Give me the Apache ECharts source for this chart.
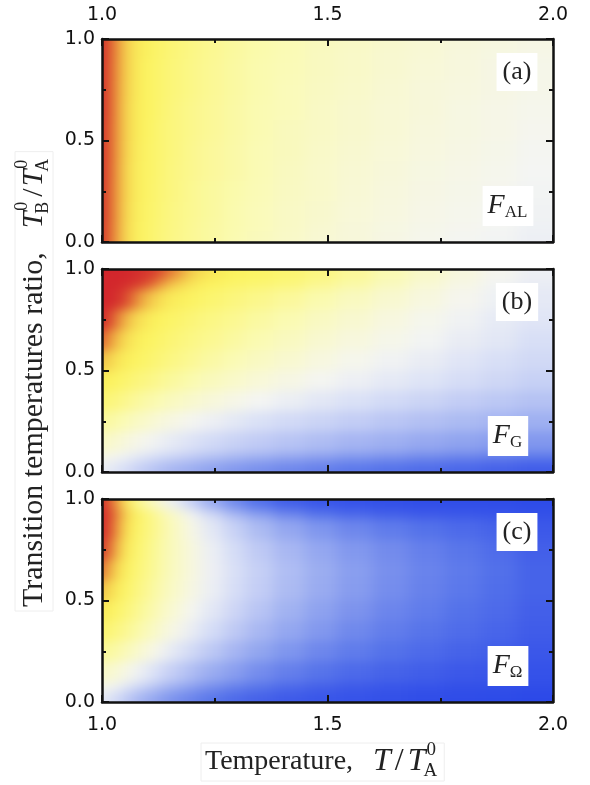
<!DOCTYPE html>
<html>
<head>
<meta charset="utf-8">
<script src="https://cdn.jsdelivr.net/npm/echarts@6/dist/echarts.min.js"></script>
<style>
  html, body { margin: 0; padding: 0; background: #fff; }
  #main { width: 590px; height: 785px; }
  /* the colour cells live on layer 0: soften the cell edges like the smooth original */
  #main canvas[data-zr-dom-id="zr_0"] { filter: url(#soft); }
</style>
</head>
<body>
<svg width="0" height="0" style="position:absolute">
  <filter id="soft" x="0" y="0" width="100%" height="100%" color-interpolation-filters="sRGB">
    <feGaussianBlur stdDeviation="8 5.5" />
  </filter>
</svg>
<div id="main"></div>
<script>
// cell edges along T/T_A^0 (finer close to 1.0 where the colour changes fast)
const tempEdges = [1.00, 1.01, 1.025, 1.04, 1.06, 1.08, 1.11, 1.14, 1.18, 1.22, 1.27, 1.32, 1.38, 1.45, 1.52, 1.60, 1.68, 1.76, 1.84, 1.92, 2.00];
// cell edges along T_B^0/T_A^0, top to bottom like the rows below
const ratioEdges = [1.0, 0.95, 0.9, 0.8, 0.7, 0.6, 0.5, 0.4, 0.3, 0.2, 0.1, 0.05, 0.0];

const tickLabels = [1.0, 1.5, 2.0];
const panelNames = ['(a)', '(b)', '(c)'];
const fNames = ['AL', 'G', 'Ω'];

// -1 deep blue, 0 white, 0.5 yellow, 1 red (rows top -> bottom)
const fAL = [
  [0.98,0.90,0.75,0.63,0.55,0.51,0.47,0.43,0.39,0.35,0.31,0.27,0.24,0.21,0.18,0.15,0.12,0.10,0.08,0.06],
  [0.98,0.90,0.75,0.63,0.55,0.51,0.47,0.43,0.39,0.35,0.31,0.27,0.24,0.20,0.17,0.14,0.12,0.09,0.07,0.05],
  [0.98,0.89,0.74,0.63,0.55,0.50,0.46,0.42,0.38,0.34,0.30,0.26,0.23,0.20,0.17,0.14,0.11,0.09,0.06,0.04],
  [0.98,0.89,0.74,0.62,0.55,0.50,0.46,0.42,0.38,0.34,0.30,0.26,0.22,0.19,0.16,0.13,0.10,0.08,0.06,0.04],
  [0.98,0.89,0.73,0.62,0.54,0.50,0.46,0.41,0.37,0.33,0.29,0.25,0.22,0.18,0.15,0.12,0.10,0.07,0.05,0.03],
  [0.97,0.88,0.73,0.62,0.54,0.50,0.45,0.41,0.37,0.33,0.29,0.25,0.21,0.18,0.15,0.12,0.09,0.07,0.05,0.02],
  [0.97,0.88,0.73,0.61,0.54,0.49,0.45,0.41,0.36,0.32,0.28,0.24,0.21,0.17,0.14,0.11,0.08,0.06,0.04,0.01],
  [0.97,0.88,0.72,0.61,0.53,0.49,0.45,0.40,0.36,0.32,0.28,0.24,0.20,0.16,0.13,0.10,0.07,0.05,0.03,0.00],
  [0.97,0.87,0.72,0.61,0.53,0.49,0.44,0.40,0.35,0.31,0.27,0.23,0.19,0.16,0.12,0.09,0.06,0.04,0.02,-0.01],
  [0.97,0.87,0.72,0.60,0.53,0.48,0.44,0.39,0.35,0.31,0.26,0.22,0.18,0.15,0.11,0.08,0.05,0.03,0.01,-0.02],
  [0.96,0.87,0.71,0.60,0.52,0.48,0.43,0.39,0.34,0.30,0.26,0.22,0.18,0.14,0.10,0.07,0.04,0.02,0.00,-0.03],
  [0.96,0.86,0.71,0.60,0.52,0.48,0.43,0.38,0.34,0.30,0.25,0.21,0.17,0.13,0.10,0.06,0.03,0.01,-0.01,-0.04]
];
const fG = [
  [1.00,1.00,1.00,1.00,0.99,0.96,0.92,0.78,0.62,0.54,0.50,0.48,0.45,0.40,0.33,0.25,0.17,0.09,0.02,-0.04],
  [1.00,1.00,1.00,0.99,0.97,0.93,0.78,0.63,0.54,0.50,0.47,0.45,0.42,0.36,0.29,0.21,0.13,0.06,-0.01,-0.06],
  [1.00,1.00,0.98,0.93,0.82,0.68,0.58,0.52,0.49,0.45,0.41,0.37,0.32,0.26,0.20,0.14,0.08,0.02,-0.03,-0.08],
  [1.00,0.93,0.80,0.69,0.60,0.54,0.50,0.47,0.43,0.39,0.35,0.30,0.25,0.19,0.14,0.08,0.03,-0.02,-0.07,-0.11],
  [0.86,0.75,0.65,0.58,0.53,0.50,0.47,0.43,0.39,0.35,0.30,0.25,0.20,0.14,0.09,0.04,-0.01,-0.06,-0.10,-0.15],
  [0.66,0.60,0.55,0.52,0.50,0.47,0.43,0.39,0.34,0.29,0.24,0.19,0.14,0.08,0.03,-0.02,-0.06,-0.11,-0.15,-0.19],
  [0.52,0.50,0.48,0.46,0.43,0.40,0.36,0.31,0.26,0.21,0.16,0.11,0.06,0.01,-0.04,-0.08,-0.12,-0.16,-0.20,-0.24],
  [0.44,0.42,0.40,0.37,0.33,0.29,0.25,0.20,0.15,0.10,0.05,0.00,-0.05,-0.10,-0.14,-0.18,-0.22,-0.26,-0.29,-0.32],
  [0.32,0.30,0.27,0.24,0.20,0.16,0.11,0.06,0.01,-0.04,-0.09,-0.14,-0.18,-0.22,-0.26,-0.30,-0.33,-0.36,-0.39,-0.42],
  [0.18,0.16,0.13,0.10,0.06,0.02,-0.03,-0.08,-0.13,-0.18,-0.23,-0.27,-0.31,-0.35,-0.39,-0.42,-0.46,-0.49,-0.52,-0.55],
  [0.05,0.03,0.00,-0.03,-0.07,-0.12,-0.17,-0.22,-0.27,-0.32,-0.37,-0.41,-0.46,-0.50,-0.54,-0.57,-0.61,-0.64,-0.67,-0.70],
  [-0.05,-0.08,-0.12,-0.16,-0.21,-0.27,-0.33,-0.39,-0.44,-0.50,-0.55,-0.59,-0.63,-0.67,-0.71,-0.74,-0.77,-0.80,-0.83,-0.86]
];
const fOmega = [
  [0.98,0.90,0.72,0.55,0.42,0.28,0.12,-0.05,-0.25,-0.45,-0.62,-0.75,-0.85,-0.90,-0.93,-0.95,-0.96,-0.96,-0.97,-0.98],
  [1.00,0.96,0.80,0.62,0.52,0.44,0.32,0.16,-0.02,-0.20,-0.38,-0.52,-0.64,-0.74,-0.80,-0.85,-0.88,-0.90,-0.92,-0.95],
  [1.00,0.94,0.74,0.58,0.50,0.43,0.33,0.20,0.05,-0.10,-0.24,-0.36,-0.47,-0.56,-0.63,-0.69,-0.74,-0.78,-0.82,-0.88],
  [0.97,0.84,0.66,0.54,0.48,0.41,0.31,0.20,0.08,-0.05,-0.17,-0.28,-0.38,-0.47,-0.55,-0.61,-0.67,-0.72,-0.77,-0.84],
  [0.84,0.68,0.58,0.51,0.46,0.39,0.30,0.19,0.08,-0.04,-0.15,-0.25,-0.35,-0.44,-0.52,-0.59,-0.65,-0.70,-0.75,-0.82],
  [0.66,0.58,0.52,0.48,0.43,0.36,0.27,0.17,0.06,-0.05,-0.16,-0.26,-0.36,-0.45,-0.53,-0.60,-0.66,-0.71,-0.76,-0.82],
  [0.54,0.50,0.47,0.43,0.38,0.31,0.22,0.12,0.01,-0.10,-0.21,-0.31,-0.41,-0.50,-0.57,-0.64,-0.69,-0.74,-0.78,-0.84],
  [0.46,0.43,0.40,0.36,0.31,0.24,0.15,0.05,-0.06,-0.17,-0.28,-0.38,-0.47,-0.55,-0.62,-0.68,-0.73,-0.77,-0.81,-0.86],
  [0.34,0.31,0.28,0.24,0.18,0.11,0.02,-0.09,-0.19,-0.29,-0.39,-0.48,-0.56,-0.63,-0.69,-0.74,-0.78,-0.82,-0.85,-0.89],
  [0.18,0.15,0.12,0.07,0.01,-0.07,-0.16,-0.26,-0.35,-0.44,-0.52,-0.60,-0.67,-0.73,-0.78,-0.82,-0.85,-0.88,-0.90,-0.93],
  [0.04,0.01,-0.03,-0.09,-0.16,-0.24,-0.33,-0.42,-0.51,-0.59,-0.66,-0.72,-0.78,-0.83,-0.87,-0.90,-0.92,-0.94,-0.95,-0.96],
  [-0.08,-0.13,-0.19,-0.26,-0.34,-0.42,-0.50,-0.58,-0.65,-0.72,-0.78,-0.83,-0.87,-0.90,-0.92,-0.94,-0.96,-0.97,-0.98,-0.99]
];
const panels = [fAL, fG, fOmega];

// colour scale from -1 (blue) through 0 (white) and 0.5 (yellow) to 1 (red)
const scaleColors = ['#2a48e8', '#3d59e9', '#5270ea', '#6f88ec', '#8ea2ef', '#a9b8f2', '#c5cff5', '#dde3f6', '#f4f5f3',
                     '#f8f8d4', '#fafab2', '#fbf78a', '#fbf35e', '#f4cd4c', '#ea983a', '#dc5530', '#d3262c'];

const gridTops = [39, 269, 499];
const gridLeft = 102, gridWidth = 451, gridHeight = 203;
const serif = '"Liberation Serif", "Times New Roman", serif';
const sans = '"DejaVu Sans", sans-serif';

let chartDom = document.getElementById('main');
let myChart = echarts.init(chartDom);

function toCells(rows) {
  let out = [];
  rows.forEach((row, i) => {
    row.forEach((v, j) => {
      let x0 = tempEdges[j], x1 = tempEdges[j + 1];
      let y1 = ratioEdges[i], y0 = ratioEdges[i + 1];
      out.push([(x0 + x1) / 2, (y0 + y1) / 2, v, x0, x1, y0, y1]);
    });
  });
  return out;
}

// cells on the border reach past the frame so the softening does not fade them
const bleedX = 30, bleedY = 13;
function renderCell(params, api) {
  let p0 = api.coord([api.value(3), api.value(6)]);
  let p1 = api.coord([api.value(4), api.value(5)]);
  let left = p0[0], top = p0[1], right = p1[0] + 0.7, bottom = p1[1] + 0.7;
  if (api.value(3) === tempEdges[0]) left -= bleedX;
  if (api.value(4) === tempEdges[tempEdges.length - 1]) right += bleedX;
  if (api.value(6) === ratioEdges[0]) top -= bleedY;
  if (api.value(5) === ratioEdges[ratioEdges.length - 1]) bottom += bleedY;
  return {
    type: 'rect',
    shape: { x: left, y: top, width: right - left, height: bottom - top },
    style: { fill: api.visual('color') }
  };
}

const frame = { lineStyle: { color: '#111', width: 2.5 } };
const ticks = { show: true, inside: true, length: 7, lineStyle: { color: '#111', width: 2 } };
const minor = { show: true, splitNumber: 2, length: 4, lineStyle: { color: '#111', width: 2 } };
const fmt = v => v.toFixed(1);

function makeAxis(i, pos, isX, labels) {
  return {
    gridIndex: i, type: 'value', position: pos, zlevel: 1, z: 10,
    min: isX ? tickLabels[0] : 0, max: isX ? tickLabels[2] : 1, interval: 0.5,
    axisLine: Object.assign({ show: true, onZero: false }, frame),
    axisTick: ticks, minorTick: minor, splitLine: { show: false },
    axisLabel: {
      show: labels, formatter: fmt, color: '#111', fontFamily: sans, fontSize: 19,
      margin: isX ? 14 : 7
    }
  };
}

let grids = [], xAxes = [], yAxes = [], series = [];
panels.forEach((rows, i) => {
  grids.push({ left: gridLeft, width: gridWidth, top: gridTops[i], height: gridHeight });
  xAxes.push(makeAxis(i, 'bottom', true, i === 2));
  xAxes.push(makeAxis(i, 'top', true, i === 0));
  yAxes.push(makeAxis(i, 'left', false, true));
  yAxes.push(makeAxis(i, 'right', false, false));
  series.push({
    type: 'custom', xAxisIndex: 2 * i, yAxisIndex: 2 * i, zlevel: 0,
    renderItem: renderCell, encode: { x: 0, y: 1 },
    data: toCells(rows)
  });
});

// text with T^0_B style sub/superscripts, laid out along a line
let measure = document.createElement('canvas').getContext('2d');
function textW(s, size, italic) {
  measure.font = (italic ? 'italic ' : '') + size + 'px ' + serif;
  return measure.measureText(s).width;
}
function mathLine(words, subA, subB, big, math, gap, slashPad) {
  let small = Math.round(math * 0.6), kids = [], x = 0;
  let put = (t, size, italic, dx, dy) => kids.push({
    type: 'text', x: x + dx, y: dy, zlevel: 1, z: 6,
    style: { text: t, fontSize: size, fontFamily: serif, fontStyle: italic ? 'italic' : 'normal',
             fill: '#222', align: 'left', verticalAlign: 'middle' }
  });
  put(words, big, false, 0, 0);
  x += textW(words, big, false) + gap;
  let symbol = (sub) => {
    put('T', math, true, 0, 0);
    x += textW('T', math, true);
    if (sub) {
      put('0', small, false, 1, -12);
      put(sub, small, false, -2, 9);
      x += Math.max(textW('0', small), textW(sub, small)) + 1;
    }
  };
  symbol(subA);
  x += slashPad;
  put('/', math, false, 0, 0);
  x += textW('/', math, false) + slashPad;
  symbol(subB);
  kids.unshift({ type: 'rect', zlevel: 1, z: 5, shape: { x: -4, y: -19, width: x + 8, height: 38 },
                 style: { fill: 'none', stroke: '#eeeeee', lineWidth: 1 } });
  return kids;
}

// white cover around the panels (on the upper layer, below axes and texts)
let covers = [
  [0, 0, gridLeft, 785], [gridLeft + gridWidth, 0, 590 - gridLeft - gridWidth, 785],
  [gridLeft, 0, gridWidth, gridTops[0]],
  [gridLeft, gridTops[0] + gridHeight, gridWidth, gridTops[1] - gridTops[0] - gridHeight],
  [gridLeft, gridTops[1] + gridHeight, gridWidth, gridTops[2] - gridTops[1] - gridHeight],
  [gridLeft, gridTops[2] + gridHeight, gridWidth, 785 - gridTops[2] - gridHeight]
];
let graphics = covers.map(c => ({
  type: 'rect', zlevel: 1, z: 0, silent: true,
  shape: { x: c[0], y: c[1], width: c[2], height: c[3] }, style: { fill: '#fff' }
}));

graphics.push({ type: 'group', x: 205, y: 762, zlevel: 1, z: 5,
                children: mathLine('Temperature,', null, 'A', 28, 32, 20, 4) });
graphics.push({ type: 'group', x: 34, y: 607, rotation: Math.PI / 2, zlevel: 1, z: 5,
                children: mathLine('Transition temperatures ratio,', 'B', 'A', 30, 30, 24, 2) });

panels.forEach((rows, i) => {
  graphics.push({
    type: 'text', x: 517, y: gridTops[i] + 33, zlevel: 1, z: 20,
    style: { text: panelNames[i], fontSize: 26, fontFamily: serif, fill: '#222',
             align: 'center', verticalAlign: 'middle', backgroundColor: '#fff', padding: [6, 6, 6, 6] }
  });
  graphics.push({
    type: 'text', x: 508, y: gridTops[i] + 167, zlevel: 1, z: 20,
    style: {
      text: '{i|F}{s|' + fNames[i] + '}', align: 'center', verticalAlign: 'middle',
      backgroundColor: '#fff', padding: [5, 6, 5, 5],
      rich: {
        i: { fontSize: 28, fontFamily: serif, fontStyle: 'italic', fill: '#222', lineHeight: 30 },
        s: { fontSize: 17, fontFamily: serif, fill: '#222', lineHeight: 14, verticalAlign: 'bottom' }
      }
    }
  });
});

let option = {
  backgroundColor: '#fff',
  animation: false,
  grid: grids,
  xAxis: xAxes,
  yAxis: yAxes,
  visualMap: {
    show: false, type: 'continuous', min: -1, max: 1, dimension: 2, seriesIndex: [0, 1, 2],
    inRange: { color: scaleColors }
  },
  graphic: graphics,
  series: series
};

option && myChart.setOption(option);
</script>
</body>
</html>
